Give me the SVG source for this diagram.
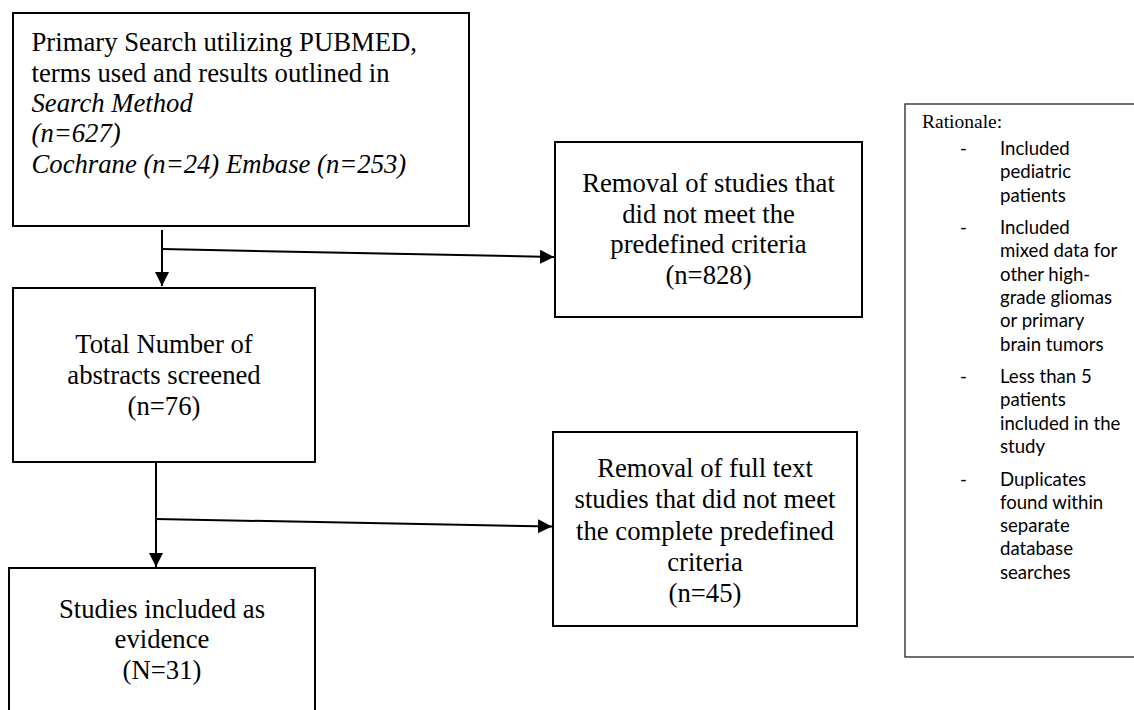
<svg xmlns="http://www.w3.org/2000/svg" width="1134" height="710" viewBox="0 0 1134 710">
<defs>
<style>
.box{fill:#fff;stroke:#000;stroke-width:2}
.rbox{fill:#fff;stroke:#222;stroke-width:1.3}
.t{font-family:"Liberation Serif","Times New Roman",serif;font-size:26.7px;fill:#000}
.c{text-anchor:middle}
.i{font-style:italic}
.rt{font-family:"Liberation Serif","Times New Roman",serif;font-size:19.5px;fill:#000}
.b{font-family:Lato,"Liberation Sans",sans-serif;font-size:18.6px;fill:#000}
.ln{fill:none;stroke:#000;stroke-width:2}
</style>
<marker id="ah" markerUnits="userSpaceOnUse" markerWidth="14" markerHeight="14" viewBox="0 0 12 12" refX="12" refY="6" orient="auto">
<path d="M0,0 L12,6 L0,12 Z" fill="#000"/>
</marker>
</defs>
<rect width="1134" height="710" fill="#fff"/>

<g id="primary-search">
<rect class="box" x="13" y="13" width="456" height="213"/>
<text class="t" x="31.5" y="51">Primary Search utilizing PUBMED,</text>
<text class="t" x="31.5" y="82">terms used and results outlined in</text>
<text class="t i" x="31.5" y="112">Search Method</text>
<text class="t i" x="31.5" y="142">(n=627)</text>
<text class="t i" x="31.5" y="173">Cochrane (n=24) Embase (n=253)</text>
</g>

<g id="removal-1">
<rect class="box" x="555" y="142" width="307" height="175"/>
<text class="t c" x="708.5" y="192">Removal of studies that</text>
<text class="t c" x="708.5" y="223">did not meet the</text>
<text class="t c" x="708.5" y="253">predefined criteria</text>
<text class="t c" x="708.5" y="284">(n=828)</text>
</g>

<g id="abstracts-screened">
<rect class="box" x="13" y="288" width="302" height="174"/>
<text class="t c" x="164" y="353">Total Number of</text>
<text class="t c" x="164" y="384">abstracts screened</text>
<text class="t c" x="164" y="415">(n=76)</text>
</g>

<g id="removal-2">
<rect class="box" x="553" y="432" width="304" height="194"/>
<text class="t c" x="705" y="477">Removal of full text</text>
<text class="t c" x="705" y="508">studies that did not meet</text>
<text class="t c" x="705" y="539.5">the complete predefined</text>
<text class="t c" x="705" y="570.5">criteria</text>
<text class="t c" x="705" y="601.5">(n=45)</text>
</g>

<g id="studies-included">
<rect class="box" x="9" y="568" width="306" height="150"/>
<text class="t c" x="162" y="618">Studies included as</text>
<text class="t c" x="162" y="648">evidence</text>
<text class="t c" x="162" y="679">(N=31)</text>
</g>

<g id="rationale">
<rect class="rbox" x="905" y="104" width="240" height="553"/>
<text class="rt" x="922" y="128">Rationale:</text>
<text class="b" x="960" y="155">-</text>
<text class="b" x="1000" y="155">Included</text>
<text class="b" x="1000" y="178.3">pediatric</text>
<text class="b" x="1000" y="201.6">patients</text>
<text class="b" x="960" y="234.1">-</text>
<text class="b" x="1000" y="234.1">Included</text>
<text class="b" x="1000" y="257.4">mixed data for</text>
<text class="b" x="1000" y="280.7">other high-</text>
<text class="b" x="1000" y="304">grade gliomas</text>
<text class="b" x="1000" y="327.3">or primary</text>
<text class="b" x="1000" y="350.6">brain tumors</text>
<text class="b" x="960" y="383.1">-</text>
<text class="b" x="1000" y="383.1">Less than 5</text>
<text class="b" x="1000" y="406.4">patients</text>
<text class="b" x="1000" y="429.7">included in the</text>
<text class="b" x="1000" y="453">study</text>
<text class="b" x="960" y="485.5">-</text>
<text class="b" x="1000" y="485.5">Duplicates</text>
<text class="b" x="1000" y="508.8">found within</text>
<text class="b" x="1000" y="532.1">separate</text>
<text class="b" x="1000" y="555.4">database</text>
<text class="b" x="1000" y="578.7">searches</text>
</g>

<g id="connectors">
<line class="ln" x1="162" y1="230" x2="162" y2="286" marker-end="url(#ah)"/>
<line class="ln" x1="162" y1="249" x2="554" y2="257" marker-end="url(#ah)"/>
<line class="ln" x1="156" y1="462" x2="156" y2="567" marker-end="url(#ah)"/>
<line class="ln" x1="156" y1="519" x2="552" y2="526.5" marker-end="url(#ah)"/>
</g>
</svg>
